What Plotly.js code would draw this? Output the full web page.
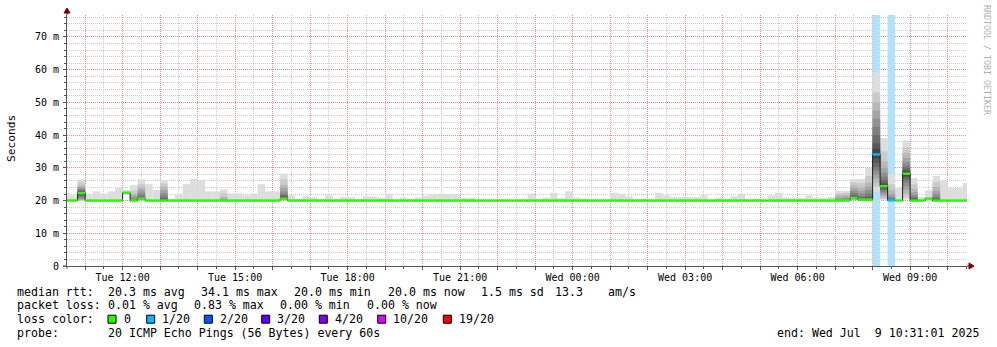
<!DOCTYPE html>
<html><head><meta charset="utf-8">
<script src="https://cdn.plot.ly/plotly-3.0.1.min.js"></script>
<style>html,body{margin:0;padding:0;background:#fff}#chart{width:997px;height:347px}</style>
</head><body><div id="chart"></div>
<script>
// ---- time base ----
const binStart = '2025-07-08T10:24:00Z';   // start of first 12-minute bin
const binMinutes = 12;
const viewStart = '2025-07-08 10:31:01';
const viewEnd   = '2025-07-09 10:31:01';

// ---- median rtt per bin (ms) ----
const median = [
 20.0,20.0,22.3,20.0,20.0,20.0,20.0,20.0,22.4,20.0,
 20.6,20.0,20.0,20.0,20.0,20.0,20.0,20.0,20.0,20.0,
 20.0,20.0,20.0,20.0,20.0,20.0,20.0,20.0,20.0,20.6,
 20.0,20.0,20.0,20.0,20.0,20.0,20.0,20.0,20.0,20.0,
 20.0,20.0,20.0,20.0,20.0,20.0,20.0,20.0,20.0,20.0,
 20.0,20.0,20.0,20.0,20.0,20.0,20.0,20.0,20.0,20.0,
 20.0,20.0,20.0,20.0,20.0,20.0,20.0,20.0,20.0,20.0,
 20.0,20.0,20.0,20.0,20.0,20.0,20.0,20.0,20.0,20.0,
 20.0,20.0,20.0,20.0,20.0,20.0,20.0,20.0,20.0,20.0,
 20.0,20.0,20.0,20.0,20.0,20.0,20.0,20.0,20.0,20.0,
 20.0,20.0,20.0,20.0,20.0,20.8,20.3,20.3,34.1,24.4,
 20.1,20.0,28.2,20.0,20.0,20.6,20.0,20.0,20.0,20.0,
 20.0];

// ---- smoke extent per bin (ms) ----
const smokeMax = [
 22.3,21.6,26.5,22.1,22.8,22.1,22.8,23.9,23.2,24.7,
 26.5,25.0,23.2,26.2,20.4,21.7,25.0,26.7,26.2,22.8,
 22.8,23.4,22.2,22.2,21.6,22.1,25.0,22.8,22.8,28.2,
 21.6,20.5,21.3,21.0,20.4,21.6,20.4,21.0,21.0,20.4,
 21.3,21.3,20.9,22.0,20.3,20.9,20.3,20.9,21.5,21.9,
 22.0,22.0,22.0,20.8,20.8,20.2,20.2,20.2,20.2,20.2,
 20.2,20.2,22.1,20.5,20.9,22.4,20.8,22.8,20.9,20.6,
 20.2,20.2,20.2,22.4,22.1,21.3,20.2,20.6,20.2,22.4,
 21.6,21.1,21.1,21.1,21.1,21.6,20.2,20.8,20.6,21.3,
 22.1,20.2,20.6,20.2,21.6,22.4,20.9,20.8,20.8,21.6,
 20.9,20.8,21.1,23.0,23.0,26.6,26.6,30.1,59.3,39.1,
 28.2,23.8,38.4,26.9,21.1,23.1,27.5,26.2,23.8,23.8,
 25.4];
const smokeMin = [
 20.0,20.0,20.0,20.0,20.0,20.0,20.0,20.0,21.8,20.0,
 20.0,20.0,20.0,20.0,20.0,20.0,20.0,20.0,20.0,20.0,
 20.0,20.0,20.0,20.0,20.0,20.0,20.0,20.0,20.0,20.0,
 20.0,20.0,20.0,20.0,20.0,20.0,20.0,20.0,20.0,20.0,
 20.0,20.0,20.0,20.0,20.0,20.0,20.0,20.0,20.0,20.0,
 20.0,20.0,20.0,20.0,20.0,20.0,20.0,20.0,20.0,20.0,
 20.0,20.0,20.0,20.0,20.0,20.0,20.0,20.0,20.0,20.0,
 20.0,20.0,20.0,20.0,20.0,20.0,20.0,20.0,20.0,20.0,
 20.0,20.0,20.0,20.0,20.0,20.0,20.0,20.0,20.0,20.0,
 20.0,20.0,20.0,20.0,20.0,20.0,20.0,20.0,20.0,20.0,
 20.0,20.0,20.0,20.0,20.0,20.1,20.0,20.0,22.6,20.1,
 20.0,20.0,20.3,20.0,20.0,20.0,20.0,20.0,20.0,20.0,
 20.0];

// ---- sorted 20 pings for bins with visible smoke layers ----
const pingBins = [2, 9, 10, 13, 21, 29, 103, 104, 105, 106, 107, 108, 109, 110, 112, 113, 116];
const pings = [
 [20.0,20.0,20.1,20.3,20.6,21.0,21.4,21.8,22.1,22.2,22.4,22.6,22.8,23.0,23.3,23.7,24.1,24.6,25.5,26.5],
 [20.0,20.0,20.0,20.0,20.0,20.0,20.0,20.0,20.0,20.0,20.0,20.0,20.0,20.2,20.5,21.0,21.5,22.0,23.0,24.7],
 [20.0,20.0,20.1,20.2,20.3,20.4,20.5,20.5,20.6,20.6,20.6,20.7,20.9,21.2,21.8,22.5,23.3,24.0,25.0,26.5],
 [20.0,20.0,20.0,20.0,20.0,20.0,20.0,20.0,20.0,20.0,20.0,20.0,20.3,20.8,21.5,22.3,23.2,24.2,25.2,26.2],
 [20.0,20.0,20.0,20.0,20.0,20.0,20.0,20.0,20.0,20.0,20.0,20.0,20.0,20.0,20.0,20.3,20.6,21.1,22.2,23.4],
 [20.1,20.2,20.3,20.4,20.5,20.5,20.5,20.6,20.6,20.6,20.7,20.9,21.2,21.6,22.1,22.8,23.8,24.8,26.5,28.2],
 [20.0,20.0,20.0,20.0,20.0,20.0,20.0,20.0,20.0,20.0,20.0,20.0,20.0,20.0,20.2,20.5,21.0,21.6,22.2,23.0],
 [20.0,20.0,20.0,20.0,20.0,20.0,20.0,20.0,20.0,20.0,20.0,20.0,20.0,20.1,20.3,20.7,21.2,21.8,22.4,23.0],
 [20.1,20.2,20.3,20.4,20.5,20.6,20.7,20.7,20.8,20.8,20.9,21.0,21.3,21.7,22.3,23.0,23.8,24.6,25.6,26.6],
 [20.0,20.0,20.0,20.1,20.1,20.2,20.2,20.3,20.3,20.3,20.4,20.5,20.7,21.0,21.5,22.2,23.0,24.0,25.3,26.6],
 [20.0,20.0,20.0,20.1,20.1,20.2,20.2,20.3,20.3,20.3,20.4,20.6,20.9,21.4,22.2,23.2,24.2,25.5,27.5,30.1],
 [22.6,24.2,25.5,26.8,28.0,29.2,30.3,31.5,32.8,33.8,34.4,35.8,37.5,40.0,42.5,45.0,47.5,50.0,53.0,59.3],
 [20.1,20.5,21.0,21.6,22.2,22.8,23.3,23.7,24.1,24.3,24.5,24.9,25.5,26.3,27.3,28.5,30.0,32.0,35.0,39.1],
 [20.0,20.0,20.0,20.0,20.0,20.0,20.0,20.0,20.0,20.1,20.1,20.2,20.3,20.5,20.8,21.3,22.0,23.2,25.0,28.2],
 [20.3,21.0,22.0,23.2,24.4,25.5,26.4,27.1,27.6,28.0,28.4,28.8,29.3,30.0,30.8,31.8,33.0,34.5,36.3,38.4],
 [20.0,20.0,20.0,20.0,20.0,20.0,20.0,20.0,20.0,20.1,20.2,20.3,20.5,20.8,21.2,21.8,22.6,23.6,25.0,26.9],
 [20.0,20.0,20.0,20.0,20.0,20.0,20.0,20.0,20.0,20.0,20.1,20.2,20.4,20.7,21.2,22.0,23.0,24.2,25.7,27.5]
];

// ---- packet loss ----
const lossBins  = [108, 110];
const lossCount = [1, 1];
const lossThresh = [0, 1, 2, 3, 4, 10, 19];
const lossColors = ['#26ff00', '#00b8ff', '#0059ff', '#5e00ff', '#7e00ff', '#dd00ff', '#ff0000'];
const lossLabels = ['0', '1/20', '2/20', '3/20', '4/20', '10/20', '19/20'];

// ---- axes text ----
const yTickVals = [0, 10, 20, 30, 40, 50, 60, 70];
const yTickText = ['0', '10 m', '20 m', '30 m', '40 m', '50 m', '60 m', '70 m'];
const xLabelTimes = ['2025-07-08 12:00:00','2025-07-08 15:00:00','2025-07-08 18:00:00','2025-07-08 21:00:00',
                     '2025-07-09 00:00:00','2025-07-09 03:00:00','2025-07-09 06:00:00','2025-07-09 09:00:00'];
const xTickLabels = ['Tue 12:00','Tue 15:00','Tue 18:00','Tue 21:00','Wed 00:00','Wed 03:00','Wed 06:00','Wed 09:00'];

// ---- legend text ----
const rttStats  = ['20.3 ms avg', '34.1 ms max', '20.0 ms min', '20.0 ms now', '1.5 ms sd', '13.3', 'am/s'];
const lossStats = ['0.01 % avg', '0.83 % max', '0.00 % min', '0.00 % now'];
const probeText = '20 ICMP Echo Pings (56 Bytes) every 60s';
const endText   = 'end: Wed Jul  9 10:31:01 2025';

// ================= build =================
const Y_MAX = 76.7;
const step = binMinutes * 60000;
const t0 = Date.parse(binStart);
function fmt(ms) {
  const d = new Date(ms), p = n => String(n).padStart(2, '0');
  return d.getUTCFullYear() + '-' + p(d.getUTCMonth() + 1) + '-' + p(d.getUTCDate()) + ' ' +
         p(d.getUTCHours()) + ':' + p(d.getUTCMinutes()) + ':' + p(d.getUTCSeconds());
}
const n = median.length;
const centerT = i => fmt(t0 + i * step + step / 2);
const startT = i => fmt(t0 + i * step);

const traces = [];
// loss background bands
const lossLevel = c => { let j = 0; lossThresh.forEach((t, k) => { if (c >= t) j = k; }); return j; };
traces.push({
  type: 'bar', x: lossBins.map(centerT), base: lossBins.map(() => 0), y: lossBins.map(() => Y_MAX),
  width: step, marker: { color: '#aee3fa', line: { width: 0 } }, hoverinfo: 'skip'
});
// smoke layers
const greyOf = k => { const g = Math.floor(190 / 10 * (10 - (k + 1))) + 50; const h = g.toString(16).padStart(2, '0'); return '#' + h + h + h; };
for (let k = 0; k < 10; k++) {
  const xs = [], bs = [], hs = [];
  for (let i = 0; i < n; i++) {
    const pi = pingBins.indexOf(i);
    let lo, hi;
    if (pi >= 0) { lo = pings[pi][k]; hi = pings[pi][19 - k]; }
    else if (k === 0) { lo = smokeMin[i]; hi = smokeMax[i]; }
    else continue;
    if (hi - lo < 0.02) continue;
    xs.push(centerT(i)); bs.push(lo); hs.push(hi - lo);
  }
  traces.push({ type: 'bar', x: xs, base: bs, y: hs, width: step,
    marker: { color: greyOf(k), line: { width: 0 } }, hoverinfo: 'skip' });
}
// median black step
const mx = [], my = [];
for (let i = 0; i < n; i++) { mx.push(startT(i)); my.push(median[i]); }
mx.push(fmt(t0 + n * step)); my.push(median[n - 1]);
traces.push({ type: 'scatter', mode: 'lines', x: mx, y: my, line: { shape: 'hv', color: '#202020', width: 1 }, hoverinfo: 'skip' });
// coloured median by loss level
const segs = lossColors.map(() => ({ x: [], y: [] }));
for (let i = 0; i < n; i++) {
  const li = lossBins.indexOf(i);
  const lvl = li >= 0 ? lossLevel(lossCount[li]) : 0;
  segs[lvl].x.push(startT(i), fmt(t0 + (i + 1) * step), null);
  segs[lvl].y.push(median[i], median[i], null);
}
segs.forEach((s, j) => {
  if (s.x.length) traces.push({ type: 'scatter', mode: 'lines', x: s.x, y: s.y, connectgaps: false,
    line: { color: lossColors[j], width: 2.5 }, hoverinfo: 'skip' });
});

// hourly grid ticks (labelled every 3 h), half-hour minor grid
const tickvals = [], ticktext = [], minorX = [];
for (let t = Date.parse('2025-07-08T11:00:00Z'); t <= Date.parse('2025-07-09T10:00:00Z'); t += 3600000) {
  const s = fmt(t); tickvals.push(s);
  const li = xLabelTimes.indexOf(s); ticktext.push(li >= 0 ? xTickLabels[li] : '');
}
for (let t = Date.parse('2025-07-08T10:30:00Z'); t <= Date.parse('2025-07-09T10:30:00Z'); t += 3600000) minorX.push(fmt(t));
const minorY = [];
for (let v = 2; v < Y_MAX; v += 2) if (v % 10 !== 0) minorY.push(v);

// pixel helpers for text outside plot
const L = 67, R = 30, T = 15, B = 81, W = 997, H = 347;
const pw = W - L - R, ph = H - T - B;
const px = x => (x - L) / pw, py = y => (H - B - y) / ph;
const MONO = 'DejaVu Sans Mono';
const annotations = [];
function txt(text, x, y, size, anchor, extra) {
  annotations.push(Object.assign({ text: text.replace(/ /g, '\u00a0'), xref: 'paper', yref: 'paper', x: px(x), y: py(y),
    xanchor: anchor || 'left', yanchor: 'middle', showarrow: false, borderpad: 0,
    font: { family: MONO, size: size || 11.6, color: '#000' } }, extra || {}));
}
const rowY = [291.5, 305.3, 319.2, 333.2];
txt('median rtt:', 16, rowY[0]);
[107.3, 200, 293.3, 386.7, 480, 554.3, 607.3].forEach((x, i) => txt(rttStats[i], x, rowY[0]));
txt('packet loss:', 16, rowY[1]);
[107.3, 193.3, 279.3, 365.7].forEach((x, i) => txt(lossStats[i], x, rowY[1]));
txt('loss color:', 16, rowY[2]);
const boxX = [108, 146.7, 204.3, 261.7, 319.3, 377.7, 443.3];
const shapes = [];
boxX.forEach((x, i) => {
  shapes.push({ type: 'rect', xref: 'paper', yref: 'paper', x0: px(x), x1: px(x + 8), y0: py(315.2), y1: py(323.2),
    fillcolor: lossColors[i], line: { color: '#000', width: 1 } });
  txt(lossLabels[i], x + 14.5, rowY[2]);
});
txt('probe:', 16, rowY[3]);
txt(probeText, 107.3, rowY[3]);
txt(endText, 980, rowY[3], 11.6, 'right');
txt('Seconds', 11, 139, 11.2, 'center', { textangle: -90 });
txt('RRDTOOL / TOBI OETIKER', 987, 60, 8.3, 'center', { textangle: 90, font: { family: MONO, size: 8.3, color: '#b0b0b0' } });

// axis arrows
shapes.push({ type: 'path', xref: 'paper', yref: 'paper', xsizemode: 'pixel', ysizemode: 'pixel', xanchor: 0, yanchor: 1,
  path: 'M 0,0 L 0,2 M -3,2 L 3,2 L 0,7 Z', fillcolor: '#800000', line: { color: '#800000', width: 1 } });
shapes.push({ type: 'path', xref: 'paper', yref: 'paper', xsizemode: 'pixel', ysizemode: 'pixel', xanchor: 1, yanchor: 0,
  path: 'M 0,0 L 2,0 M 2,3 L 2,-3 L 7,0 Z', fillcolor: '#800000', line: { color: '#800000', width: 1 } });
shapes.push({ type: 'path', xref: 'paper', yref: 'paper', xsizemode: 'pixel', ysizemode: 'pixel', xanchor: 0, yanchor: 0,
  path: 'M -4,0 L 0,0 M 0,0 L 0,-3', line: { color: '#555', width: 1 } });

const MGRID = '#e68e8e', GRID = '#cbcbcb', DASH = '1px,1px';
const layout = {
  width: W, height: H, margin: { l: L, r: R, t: T, b: B, pad: 0 },
  paper_bgcolor: '#fff', plot_bgcolor: '#fff', showlegend: false, barmode: 'overlay', hovermode: false,
  font: { family: MONO, size: 10, color: '#000' },
  xaxis: { type: 'date', range: [viewStart, viewEnd], tickmode: 'array', tickvals, ticktext,
    showgrid: true, gridcolor: MGRID, griddash: DASH, gridwidth: 1,
    ticks: 'outside', ticklen: 3, tickcolor: '#555', showline: true, linecolor: '#555', linewidth: 1,
    zeroline: false, tickfont: { family: MONO, size: 10, color: '#000' }, ticklabelstandoff: -1,
    minor: { tickmode: 'array', tickvals: minorX, showgrid: true,
      gridcolor: GRID, griddash: DASH, ticks: 'outside', ticklen: 2, tickcolor: '#555' } },
  yaxis: { range: [0, Y_MAX], tickmode: 'array', tickvals: yTickVals, ticktext: yTickText,
    showgrid: true, gridcolor: MGRID, griddash: DASH, gridwidth: 1,
    ticks: 'outside', ticklen: 3, tickcolor: '#555', showline: true, linecolor: '#555', linewidth: 1,
    zeroline: false, tickfont: { family: MONO, size: 10, color: '#000' }, ticklabelstandoff: 2,
    minor: { tickmode: 'array', tickvals: minorY, showgrid: true, gridcolor: GRID, griddash: DASH,
      ticks: 'outside', ticklen: 2, tickcolor: '#555' } },
  annotations, shapes
};
Plotly.newPlot('chart', traces, layout, { staticPlot: true, displayModeBar: false });
</script></body></html>
